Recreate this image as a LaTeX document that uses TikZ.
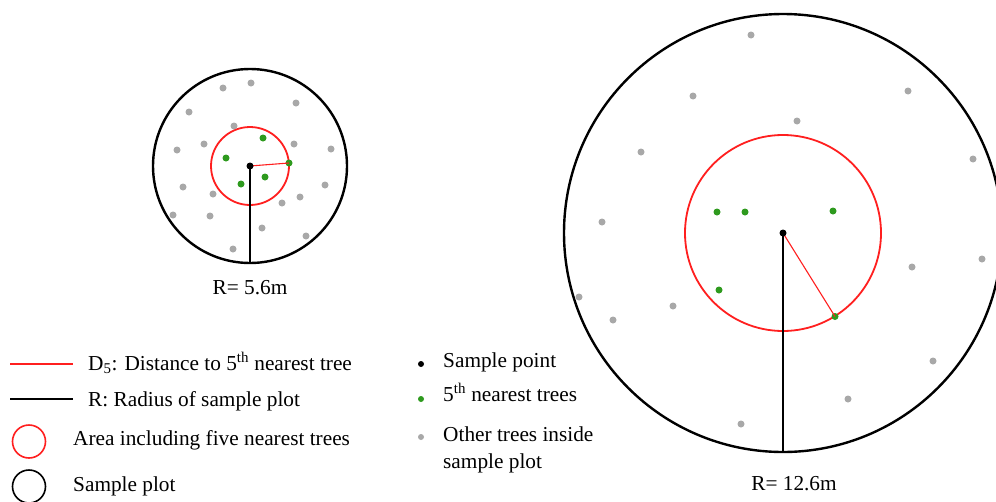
\documentclass[tikz,border=0pt]{standalone}
\usepackage{fontspec}
\setmainfont{Liberation Serif}
\usetikzlibrary{positioning}
\definecolor{treeGray}{HTML}{A8A8A8}
\definecolor{treeGreen}{HTML}{2E9A1E}
\definecolor{areaRed}{HTML}{FF1F1F}

\begin{document}
\begin{tikzpicture}[x=1pt,y=-1pt,
    plot/.style={draw=black, line width=2.4pt},
    area/.style={draw=areaRed, line width=1.8pt},
    dist/.style={draw=areaRed, line width=1.1pt},
    rad/.style={draw=black, line width=1.3pt},
    dot/.style={circle, inner sep=0pt, minimum size=7pt},
    other/.style={dot, fill=treeGray},
    near/.style={dot, fill=treeGreen},
    centre/.style={dot, fill=black},
    lbl/.style={font=\fontsize{21.3}{26.5}\selectfont, inner sep=0pt}]
  \clip (0,0) rectangle (996,501);
  \fill[white] (0,0) rectangle (996,501);

  % small plot, R = 5.6 m
  \coordinate (o1) at (250,166);
  \coordinate (b1) at (250,263);
  \draw[plot] (o1) circle[radius=97pt];
  \draw[area] (o1) circle[radius=39pt];
  \foreach \x/\y in {223/88, 251/83, 296/103, 189/112, 234/126, 294/144,
      177/150, 204/144, 331/149, 183/187, 213/194, 325/185, 300/197,
      282/203, 173/215, 210/216, 262/228, 306/236, 233/249}
    \node[other] at (\x,\y) {};
  \node[near] (f1a) at (263,138) {};
  \node[near] (f1b) at (226,158) {};
  \node[near] (f1c) at (265,177) {};
  \node[near] (f1d) at (241,184) {};
  \node[near] (f1e) at (289,163) {};
  \draw[rad] (o1) -- (b1);
  \draw[dist] (o1) -- (f1e.center);
  \node[centre] (s1) at (o1) {};
  \node[lbl, anchor=base] (r1) at (250,294) {R= 5.6m};

  % large plot, R = 12.6 m
  \coordinate (o2) at (783,233);
  \coordinate (b2) at (783,451);
  \draw[plot] (o2) circle[radius=219pt];
  \draw[area] (o2) circle[radius=98pt];
  \foreach \x/\y in {751/35, 693/96, 908/91, 797/121, 641/152, 973/159,
      602/222, 982/259, 912/267, 579/297, 673/306, 613/320, 933/361,
      848/399, 741/424}
    \node[other] at (\x,\y) {};
  \node[near] (f2a) at (717,212) {};
  \node[near] (f2b) at (745,212) {};
  \node[near] (f2c) at (833,211) {};
  \node[near] (f2d) at (719,290) {};
  \node[near] (f2e) at (835,316.5) {};
  \draw[rad] (o2) -- (b2);
  \draw[dist] (o2) -- (f2e.center);
  \node[centre] (s2) at (o2) {};
  \node[lbl, anchor=base] (r2) at (794,490) {R= 12.6m};

  % legend
  \coordinate (kd0) at (10,364);
  \coordinate (kd1) at (73,364);
  \coordinate (kr0) at (10,399);
  \coordinate (kr1) at (73,399);
  \draw[areaRed, line width=1.1pt] (kd0) -- (kd1);
  \draw[black, line width=1.1pt] (kr0) -- (kr1);
  \node[lbl, anchor=base west] (kdt) at (88,370.5)
    {D\textsubscript{5}: Distance to 5\textsuperscript{th} nearest tree};
  \node[lbl, anchor=base west] (krt) at (88,406.5) {R: Radius of sample plot};
  \draw[areaRed, line width=1.6pt] (29,441.5) circle[radius=16.5pt];
  \draw[black, line width=1.6pt] (29,486.5) circle[radius=16.5pt];
  \node[lbl, anchor=base west] (kat) at (73,445) {Area including five nearest trees};
  \node[lbl, anchor=base west] (kpt) at (73,491.5) {Sample plot};

  \node[centre, minimum size=6pt] (ks) at (421,364) {};
  \node[near, minimum size=6pt] (kn) at (421,399) {};
  \node[other, minimum size=6pt] (ko) at (421,437) {};
  \node[lbl, anchor=base west] (kst) at (443,367.5) {Sample point};
  \node[lbl, anchor=base west] (knt) at (443,401.5) {5\textsuperscript{th} nearest trees};
  \node[lbl, anchor=base west, align=left] (kot) at (443,468.3)
    {Other trees inside\\sample plot};
\end{tikzpicture}
\end{document}
